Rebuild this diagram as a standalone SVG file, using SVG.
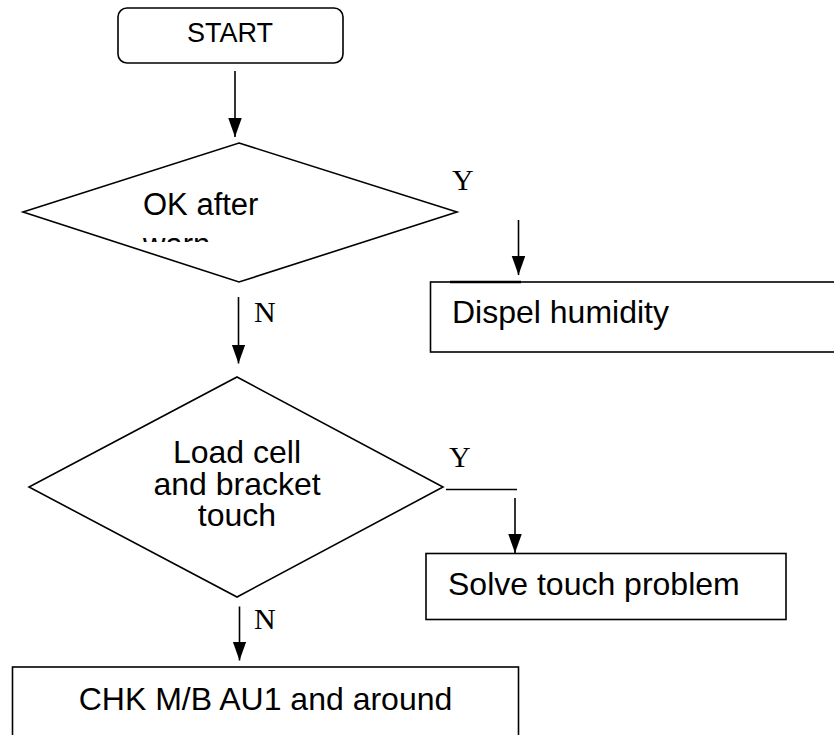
<svg xmlns="http://www.w3.org/2000/svg" width="834" height="735" viewBox="0 0 834 735">
  <style>
    .shape { fill: #ffffff; stroke: #000000; stroke-width: 1.6; }
    .txt { font-family: "Liberation Sans", Arial, sans-serif; fill: #000000; }
    .lbl { font-family: "Liberation Serif", "Times New Roman", serif; font-size: 30px; fill: #000000; }
    .conn { stroke: #000000; stroke-width: 1.6; fill: none; }
  </style>
  <defs>
    <marker id="arrow" markerUnits="userSpaceOnUse" markerWidth="20" markerHeight="14" refX="19" refY="6.75" orient="auto">
      <path d="M0,0 L19,6.75 L0,13.5 z" fill="#000000"/>
    </marker>
    <clipPath id="clipWarn">
      <rect x="0" y="0" width="834" height="242"/>
    </clipPath>
  </defs>
  <rect x="0" y="0" width="834" height="735" fill="#ffffff"/>

  <g id="start">
    <rect class="shape" x="118" y="8" width="225" height="55" rx="9" ry="9"/>
    <text class="txt" x="230" y="42" font-size="27" text-anchor="middle">START</text>
  </g>

  <g id="decision1">
    <polygon class="shape" points="239,143 457,212 239,282 23,212"/>
    <text class="txt" x="143" y="215" font-size="31">OK after</text>
    <text class="txt" x="143" y="254.5" font-size="31" clip-path="url(#clipWarn)">warn</text>
  </g>

  <g id="dispel">
    <rect class="shape" x="430.5" y="282" width="420" height="70"/>
    <text class="txt" x="452" y="323" font-size="32">Dispel humidity</text>
  </g>

  <g id="decision2">
    <polygon class="shape" points="237,377 443,487 237,597 29,487"/>
    <text class="txt" x="237" y="463" font-size="32" text-anchor="middle">Load cell</text>
    <text class="txt" x="237" y="494.5" font-size="32" text-anchor="middle">and bracket</text>
    <text class="txt" x="237" y="526" font-size="32" text-anchor="middle">touch</text>
  </g>

  <g id="solve">
    <rect class="shape" x="426" y="553.5" width="360" height="66"/>
    <text class="txt" x="448" y="595" font-size="32">Solve touch problem</text>
  </g>

  <g id="check">
    <rect class="shape" x="12.5" y="667" width="506" height="100"/>
    <text class="txt" x="265.5" y="710" font-size="32" text-anchor="middle">CHK M/B AU1 and around</text>
  </g>

  <g id="connectors">
    <line class="conn" x1="235" y1="71" x2="235" y2="137" marker-end="url(#arrow)"/>
    <line class="conn" x1="518.5" y1="220" x2="518.5" y2="275" marker-end="url(#arrow)"/>
    <line x1="450" y1="282" x2="521" y2="282" stroke="#000000" stroke-width="2.6"/>
    <line class="conn" x1="238.5" y1="297" x2="238.5" y2="363.5" marker-end="url(#arrow)"/>
    <line class="conn" x1="446" y1="489.5" x2="517" y2="489.5"/>
    <line class="conn" x1="515" y1="498" x2="515" y2="553" marker-end="url(#arrow)"/>
    <line class="conn" x1="239.5" y1="606.5" x2="239.5" y2="660.5" marker-end="url(#arrow)"/>
    <text class="lbl" x="452" y="190">Y</text>
    <text class="lbl" x="254" y="322">N</text>
    <text class="lbl" x="449" y="466.5">Y</text>
    <text class="lbl" x="254" y="628.5">N</text>
  </g>
</svg>
